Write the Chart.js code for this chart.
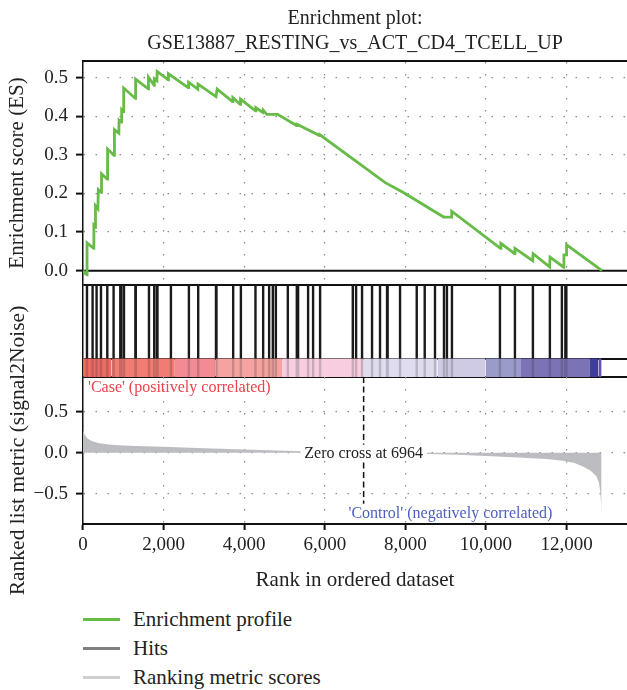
<!DOCTYPE html>
<html><head><meta charset="utf-8">
<script src="https://cdn.jsdelivr.net/npm/chart.js@4.4.1/dist/chart.umd.min.js"></script>
<style>
html,body{margin:0;padding:0;background:#fff;}
#wrap{position:relative;width:627px;height:690px;overflow:hidden;font-family:"Liberation Serif","DejaVu Serif",serif;}
canvas{position:absolute;left:0;}
#cA{top:0}
#cB{top:282px}
#cC{top:282px}
.lg{position:absolute;left:83px;width:37px;height:3px;}
.lt{position:absolute;left:133px;font-size:21px;color:#222;line-height:24px;white-space:nowrap;}
</style></head>
<body><div id="wrap">
<canvas id="cA" width="627" height="285"></canvas>
<canvas id="cB" width="627" height="98"></canvas>
<canvas id="cC" width="627" height="318"></canvas>
<div class="lg" style="top:618px;background:#67bb47"></div><div class="lt" style="top:607px">Enrichment profile</div>
<div class="lg" style="top:647px;background:#808080"></div><div class="lt" style="top:636px">Hits</div>
<div class="lg" style="top:676px;background:#cfcfcf"></div><div class="lt" style="top:665px">Ranking metric scores</div>
</div>
<script>
// ---------------- data ----------------
const rankTicks = [0, 2000, 4000, 6000, 8000, 10000, 12000];
const esTicks = [0, 0.1, 0.2, 0.3, 0.4, 0.5];
const metricTicks = [-0.5, 0, 0.5];
const zeroCross = 6964;

// running enrichment score (vertices)
const esRanks = [0, 60, 100, 100, 265, 270, 305, 310, 370, 380, 450, 460, 600, 605, 615, 770, 780, 890, 895, 955, 960, 1005, 1010, 1300, 1305, 1620, 1625, 1765, 1770, 1835, 1840, 2115, 2120, 2610, 2620, 2850, 2855, 3300, 3330, 3710, 3720, 3900, 3910, 4280, 4290, 4460, 4470, 4560, 4830, 5300, 5310, 5870, 5880, 7500, 7960, 8950, 9140, 9150, 10360, 10370, 10710, 10720, 11160, 11170, 11580, 11590, 11930, 11935, 11990, 12000, 12880];
const esScores = [0, -0.008, -0.010, 0.072, 0.058, 0.117, 0.112, 0.168, 0.160, 0.210, 0.203, 0.251, 0.237, 0.280, 0.315, 0.299, 0.365, 0.356, 0.390, 0.385, 0.417, 0.412, 0.473, 0.446, 0.496, 0.471, 0.501, 0.480, 0.497, 0.492, 0.516, 0.494, 0.510, 0.474, 0.488, 0.470, 0.483, 0.451, 0.470, 0.438, 0.448, 0.431, 0.444, 0.414, 0.422, 0.410, 0.416, 0.405, 0.405, 0.376, 0.379, 0.350, 0.352, 0.228, 0.202, 0.139, 0.139, 0.154, 0.058, 0.071, 0.044, 0.058, 0.026, 0.044, 0.010, 0.035, 0.009, 0.041, 0.041, 0.067, 0.0];

// positions of gene-set members in the ranked list
const hitRanks = [99, 238, 337, 446, 603, 759, 925, 950, 1017, 1300, 1310, 1637, 1768, 1836, 1848, 2182, 2628, 2859, 3300, 3312, 3727, 3918, 4280, 4471, 4619, 4711, 4786, 5083, 5306, 5338, 5586, 5710, 5884, 6695, 6777, 6925, 7173, 7371, 7545, 7560, 7868, 8282, 8480, 8735, 8958, 9032, 9156, 10347, 10719, 11165, 11586, 11884, 11970, 11995];

// ranked list metric (signal2Noise)
const metricRanks = [0, 40, 100, 200, 400, 700, 1000, 1500, 2000, 3000, 4000, 5000, 6000, 6964, 7500, 8600, 9300, 10000, 10800, 11500, 11900, 12200, 12420, 12600, 12745, 12800, 12830, 12855, 12868];
const metricValues = [0.27, 0.22, 0.18, 0.145, 0.115, 0.097, 0.088, 0.079, 0.072, 0.055, 0.040, 0.025, 0.012, 0.0, -0.006, -0.016, -0.025, -0.040, -0.058, -0.075, -0.097, -0.125, -0.170, -0.220, -0.290, -0.360, -0.450, -0.600, -0.800];

// colour bar segments (rank ranges)
const bandStarts = [0, 710, 2280, 3290, 4940, 6950, 8800, 9990, 10870, 12580, 12790];
const bandEnds = [710, 2280, 3290, 4940, 6950, 8800, 9990, 10870, 12580, 12790, 12870];
const bandPalette = ['#ee6b63', '#f27b73', '#f38b95', '#f5a3a0', '#f8cde0', '#dedcee', '#d0cbe4', '#9b9bcb', '#7b73b5', '#3f3e99', '#6654ab'];

// ---------------- style / layout ----------------
const FONT = "'Liberation Serif', 'DejaVu Serif', serif";
const TXT = '#222';
const DOTS = [1.5, 10.5];
const RMAX = 13500;
const fixTicks = arr => s => { s.ticks = arr.map(v => ({ value: v })); };
const yFit = w => s => { s.width = w; s.paddingTop = 0; s.paddingBottom = 0; };
const common = { responsive: false, animation: false, events: [], devicePixelRatio: 1 };
const noPlug = { legend: { display: false }, tooltip: { enabled: false } };

// ---- Chart A: enrichment score ----
new Chart(document.getElementById('cA'), {
  type: 'line',
  data: { datasets: [
    { label: 'Enrichment profile', data: esRanks.map((r, i) => ({ x: r, y: esScores[i] })), borderColor: '#67bb47', borderWidth: 2.8, pointRadius: 0, tension: 0, order: 1 },
    { label: 'zero', data: [{ x: 0, y: 0 }, { x: RMAX, y: 0 }], borderColor: '#111', borderWidth: 2, pointRadius: 0, order: 2 }
  ] },
  options: { ...common,
    layout: { padding: 0 },
    plugins: { ...noPlug,
      title: { display: true, fullSize: false, text: ['Enrichment plot:', 'GSE13887_RESTING_vs_ACT_CD4_TCELL_UP'], color: TXT,
        font: { family: FONT, size: 20, weight: 'normal', lineHeight: 1.25 }, padding: { top: 6.5, bottom: 4.5 } } },
    scales: {
      x: { type: 'linear', position: 'top', min: 0, max: RMAX, afterBuildTicks: fixTicks(rankTicks), afterFit: s => { s.height = 0; s.paddingLeft = 0; s.paddingRight = 0; },
        ticks: { display: false }, grid: { color: '#888', lineWidth: 1.2, drawTicks: false },
        border: { display: true, color: '#111', width: 2, dash: DOTS } },
      y: { min: -0.037, max: 0.543, afterBuildTicks: fixTicks(esTicks), afterFit: yFit(83),
        ticks: { color: TXT, font: { family: FONT, size: 19 }, padding: 8, callback: v => v.toFixed(1) },
        grid: { color: '#888', lineWidth: 1.2, tickColor: '#111', tickWidth: 2, tickLength: 7 },
        border: { display: true, color: '#111', width: 1.5, dash: DOTS },
        title: { display: true, text: 'Enrichment score (ES)', color: TXT, font: { family: FONT, size: 21 }, padding: { top: 5, bottom: 0 } } }
    } }
});

// ---- Chart B: hits + colour bar ----
const BAR = 0.2;
const hitData = [], stripeData = [];
hitRanks.forEach(r => { hitData.push({ x: r, y: BAR }, { x: r, y: 1 }, { x: r, y: null }); stripeData.push({ x: r, y: 0 }, { x: r, y: BAR }, { x: r, y: null }); });
const bandSets = bandStarts.map((s, i) => ({ label: 'band' + i, data: [{ x: s, y: BAR }, { x: bandEnds[i], y: BAR }], fill: 'origin',
  backgroundColor: bandPalette[i], borderWidth: 0, pointRadius: 0, order: 3 }));
new Chart(document.getElementById('cB'), {
  type: 'line',
  data: { datasets: [
    { label: 'Hits', data: hitData, borderColor: '#1a1a1a', borderWidth: 2.4, pointRadius: 0, spanGaps: false, order: 1 },
    { label: 'hit stripes', data: stripeData, borderColor: 'rgba(40,40,40,0.22)', borderWidth: 2.4, pointRadius: 0, spanGaps: false, order: 2 },
    ...bandSets
  ] },
  options: { ...common,
    layout: { padding: { left: 83, top: 3, bottom: 3, right: 0 } },
    plugins: { ...noPlug },
    scales: {
      x: { type: 'linear', min: 0, max: RMAX, display: false },
      y: { min: 0, max: 1, z: 1, afterBuildTicks: fixTicks([0, BAR, 1]), afterFit: yFit(0),
        ticks: { display: false }, grid: { color: '#111', lineWidth: 2, drawTicks: false },
        border: { display: true, color: '#111', width: 1.5 } }
    } }
});

// ---- Chart C: ranked list metric ----
const labelsPlugin = {
  id: 'gseaLabels',
  afterDatasetsDraw(chart) {
    const { ctx, chartArea: a, scales: { x, y } } = chart;
    ctx.save();
    ctx.font = "16px " + FONT;
    ctx.textBaseline = 'middle';
    const zx = x.getPixelForValue(zeroCross), zy = y.getPixelForValue(0);
    const txt = 'Zero cross at ' + zeroCross;
    const w = ctx.measureText(txt).width;
    ctx.fillStyle = '#fff';
    ctx.fillRect(zx - w / 2 - 4, zy - 8, w + 8, 16);
    ctx.fillStyle = TXT; ctx.textAlign = 'center';
    ctx.fillText(txt, zx, zy + 1);
    ctx.textAlign = 'left'; ctx.fillStyle = '#ea4348';
    ctx.fillText("'Case' (positively correlated)", a.left + 5, a.top + 11);
    ctx.textAlign = 'right'; ctx.fillStyle = '#4d5ec0';
    ctx.fillText("'Control' (negatively correlated)", x.getPixelForValue(11650), y.getPixelForValue(-0.736));
    ctx.restore();
  }
};
new Chart(document.getElementById('cC'), {
  type: 'line',
  data: { datasets: [
    { label: 'Ranking metric scores', data: metricRanks.map((r, i) => ({ x: r, y: metricValues[i] })), fill: 'origin', backgroundColor: '#bcbdc1', borderWidth: 0, pointRadius: 0, order: 2 },
    { label: 'zero cross', data: [{ x: zeroCross, y: 0.92 }, { x: zeroCross, y: -0.62 }], borderColor: '#111', borderWidth: 1.5, borderDash: [6, 3.5], pointRadius: 0, order: 1 }
  ] },
  options: { ...common,
    layout: { padding: { top: 95, left: 0, right: 0, bottom: 0 } },
    plugins: { ...noPlug },
    scales: {
      x: { type: 'linear', min: 0, max: RMAX, afterBuildTicks: fixTicks(rankTicks), afterFit: s => { s.height = 76; },
        ticks: { color: TXT, font: { family: FONT, size: 19 }, padding: 4, maxRotation: 0, autoSkip: false, callback: v => v.toLocaleString('en-US') },
        grid: { color: '#888', lineWidth: 1.2, tickColor: '#111', tickWidth: 2, tickLength: 6 },
        border: { display: true, color: '#111', width: 2, dash: DOTS },
        title: { display: true, text: 'Rank in ordered dataset', color: TXT, font: { family: FONT, size: 21 }, padding: { top: 0, bottom: 7 } } },
      y: { min: -0.866, max: 0.92, afterBuildTicks: fixTicks(metricTicks), afterFit: yFit(83),
        ticks: { color: TXT, font: { family: FONT, size: 19 }, padding: 8, callback: v => v.toFixed(1).replace('-', '\u2212') },
        grid: { color: '#888', lineWidth: 1.2, tickColor: '#111', tickWidth: 2, tickLength: 7 },
        border: { display: true, color: '#111', width: 1.5, dash: DOTS },
        title: { display: true, text: 'Ranked list metric (signal2Noise)', color: TXT, font: { family: FONT, size: 21.5 }, padding: { top: 5, bottom: 0 } } }
    } },
  plugins: [labelsPlugin]
});
</script>
</body></html>
